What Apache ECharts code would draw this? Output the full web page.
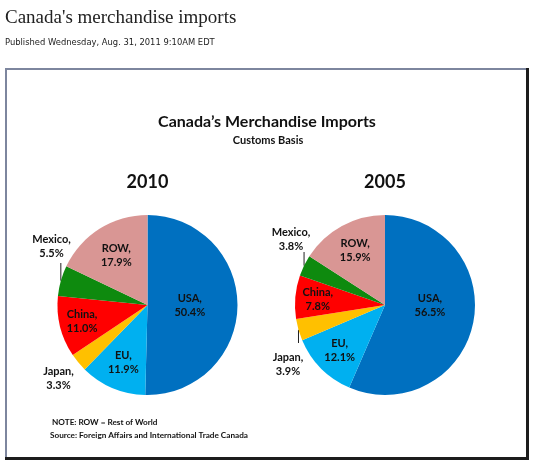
<!DOCTYPE html>
<html>
<head>
<meta charset="utf-8">
<script src="https://cdn.jsdelivr.net/npm/echarts@6/dist/echarts.min.js"></script>
<style>
  html, body { margin: 0; padding: 0; background: #fff; }
  #chart { width: 537px; height: 466px; }
</style>
</head>
<body>
<div id="chart"></div>
<script>
// data
const years = ['2010', '2005'];
const categories = ['USA', 'EU', 'Japan', 'China', 'Mexico', 'ROW'];
const share2010 = [50.4, 11.9, 3.3, 11.0, 5.5, 17.9];
const share2005 = [56.5, 12.1, 3.9, 7.8, 3.8, 15.9];
const notes = ['NOTE: ROW = Rest of World', 'Source: Foreign Affairs and International Trade Canada'];

const sliceColors = ['#0070C0', '#00B0F0', '#FFC000', '#FF0000', '#0E8A0E', '#D99694'];
const labelFont = 'Lato';

// where each label sits: k = fraction of radius along mid angle,
// or dx/dy from centre for the labels outside the pie (line = end of leader line)
const pies = [
  {center: [147.5, 305], r: 90, values: share2010,
   spots: [{k: 0.47}, {k: 0.69}, {dx: -89, dy: 73}, {k: 0.75}, {dx: -96, dy: -59, line: -42}, {k: 0.65}]},
  {center: [385, 305], r: 90, values: share2005,
   spots: [{dx: 45, dy: 0}, {k: 0.71}, {dx: -97, dy: 59, line: 38}, {k: 0.75}, {dx: -94, dy: -66, line: -53}, {k: 0.69}]}
];

function midAngles(values) {
  const total = values.reduce((a, b) => a + b, 0);
  let acc = 0;
  return values.map(v => {
    const a = (acc + v / 2) / total * 2 * Math.PI;
    acc += v;
    return a;
  });
}

const series = pies.map(p => {
  const mids = midAngles(p.values);
  return {
    type: 'pie',
    center: p.center,
    radius: p.r,
    startAngle: 90,
    clockwise: true,
    avoidLabelOverlap: false,
    emphasis: {disabled: true},
    data: categories.map((c, i) => {
      const s = p.spots[i];
      const outside = s.k == null;
      return {
        name: c,
        value: p.values[i],
        itemStyle: {color: sliceColors[i]},
        label: {position: outside ? 'outside' : 'inside'},
        labelLine: {show: outside && s.line != null, lineStyle: {color: '#222', width: 1}}
      };
    }),
    label: {
      show: true,
      color: '#111',
      fontFamily: labelFont,
      fontWeight: 'bold',
      fontSize: 11,
      lineHeight: 14,
      formatter: d => d.name + ',\n' + d.value.toFixed(1) + '%'
    },
    labelLayout: function (lp) {
      const i = lp.dataIndex;
      const s = p.spots[i];
      const a = mids[i];
      const cx = p.center[0], cy = p.center[1];
      let x, y;
      if (s.k != null) {
        x = cx + s.k * p.r * Math.sin(a);
        y = cy - s.k * p.r * Math.cos(a);
      } else {
        x = cx + s.dx;
        y = cy + s.dy;
      }
      const out = {x: x, y: y, align: 'center', verticalAlign: 'middle'};
      if (s.line != null) {
        const ex = cx + p.r * Math.sin(a), ey = cy - p.r * Math.cos(a);
        out.labelLinePoints = [[ex, ey], [ex, cy + s.line]];
      }
      return out;
    }
  };
});

const txt = (x, y, text, size, opts) => ({
  type: 'text', x: x, y: y, silent: true,
  style: Object.assign({
    text: text, fontSize: size, fontFamily: labelFont, fontWeight: 'bold',
    fill: '#111', align: 'center', verticalAlign: 'middle'
  }, opts || {})
});

const graphic = [
  // frame
  {type: 'rect', shape: {x: 5, y: 68, width: 524, height: 2}, style: {fill: '#7d869e'}},
  {type: 'rect', shape: {x: 5, y: 68, width: 2, height: 392}, style: {fill: '#7d869e'}},
  {type: 'rect', shape: {x: 526, y: 68, width: 3, height: 392}, style: {fill: '#1c1c1c'}},
  {type: 'rect', shape: {x: 5, y: 457, width: 524, height: 3}, style: {fill: '#1c1c1c'}},
  txt(5, 18, "Canada's merchandise imports", 19,
      {fontFamily: 'Liberation Serif', fontWeight: 'normal', align: 'left', fill: '#222'}),
  txt(5, 43, 'Published Wednesday, Aug. 31, 2011 9:10AM EDT', 8.4,
      {fontFamily: 'DejaVu Sans', fontWeight: 'normal', align: 'left', fill: '#222'}),
  txt(267, 122, 'Canada’s Merchandise Imports', 16),
  txt(268, 140, 'Customs Basis', 11),
  txt(pies[0].center[0], 182, years[0], 18),
  txt(pies[1].center[0], 182, years[1], 18),
  txt(52, 422, notes[0], 8.2, {align: 'left'}),
  txt(50, 435, notes[1], 8.2, {align: 'left'})
];

const myChart = echarts.init(document.getElementById('chart'));
myChart.setOption({
  animation: false,
  series: series,
  graphic: graphic
});
</script>
</body>
</html>
